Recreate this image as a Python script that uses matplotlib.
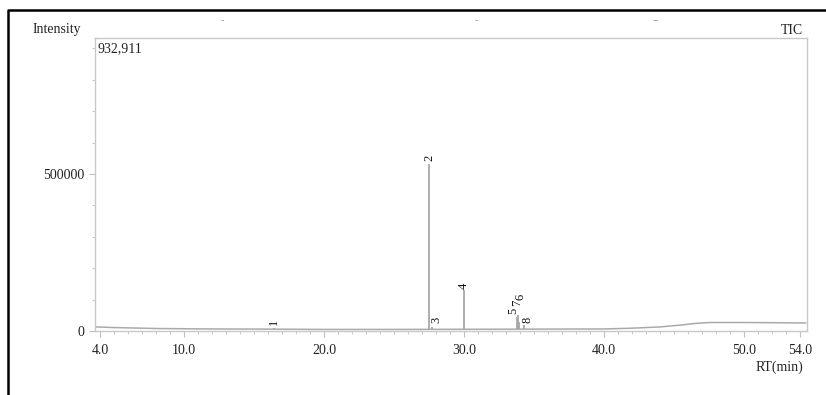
import matplotlib.pyplot as plt
from matplotlib.lines import Line2D

# baseline of the TIC trace (RT in min, intensity)
base_rt = [3.7, 5.0, 8.0, 12.0, 16.0, 20.0, 25.0, 30.0, 35.0, 40.0, 42.0, 44.0, 45.5, 46.5, 47.5, 50.0, 52.0, 54.4]
base_int = [13000, 11000, 8000, 6500, 6000, 5000, 5000, 5500, 6000, 6500, 9000, 13000, 19000, 24000, 27000, 27000, 26500, 25500]

# peaks
peak_labels = ['1', '2', '3', '4', '5', '6', '7', '8']
peak_rt = [16.4, 27.5, 27.7, 30.0, 33.75, 33.85, 33.95, 34.25]
peak_int = [9000, 531000, 12000, 130000, 45000, 52000, 28000, 18000]
# where the label sits (intensity)
label_y = [20000, 540000, 26000, 135000, 55000, 100000, 80000, 24000]
label_x = [16.4, 27.5, 28.0, 30.0, 33.55, 34.05, 33.8, 34.5]

plt.rcParams['font.family'] = 'Liberation Serif'
fig = plt.figure(figsize=(8.26, 3.95), dpi=100)
ax = fig.add_axes([0.115, 0.162, 0.862, 0.742])

ax.plot(base_rt, base_int, color='#aaaaaa', lw=1.1)
ax.vlines(peak_rt, 5000, peak_int, color='#a8a8a8', lw=1.3)
for lab, x, y in zip(peak_labels, label_x, label_y):
    ax.text(x, y, lab, rotation=90, ha='center', va='bottom', fontsize=9, color='#111111')

ax.set_xlim(3.64, 54.5)
ax.set_ylim(0, 932911)

for s in ax.spines.values():
    s.set_color('#c8c8c8')
    s.set_linewidth(1.0)

ax.set_xticks([4.0, 10.0, 20.0, 30.0, 40.0, 50.0, 54.0])
ax.set_xticklabels(['4.0', '10.0', '20.0', '30.0', '40.0', '50.0', '54.0'])
ax.set_xticks(range(5, 54), minor=True)
ax.set_yticks([0, 500000])
ax.set_yticklabels(['0', '500000'])
ax.set_yticks(range(100000, 900001, 100000), minor=True)
ax.tick_params(axis='both', which='major', colors='#c0c0c0', labelcolor='#222222',
               labelsize=10, length=4, width=0.8)
ax.tick_params(axis='both', which='minor', colors='#c8c8c8', length=2.5, width=0.7)
ax.tick_params(axis='x', pad=5)

fig.text(33 / 826, 1 - 30 / 395, 'Intensity', fontsize=10, color='#222222', va='center')
ax.text(0.003, 0.985, '932,911', transform=ax.transAxes, fontsize=10, color='#222222', va='top')
fig.text(803 / 826, 1 - 30 / 395, 'TIC', fontsize=10, color='#222222', va='center', ha='right')
fig.text(803 / 826, 1 - 367 / 395, 'RT(min)', fontsize=10, color='#222222', va='center', ha='right')

# small marks along the top
fig.text(222 / 826, 1 - 21 / 395, '-', fontsize=7, color='#999999', ha='center', va='center')
fig.text(476 / 826, 1 - 21 / 395, '-', fontsize=7, color='#999999', ha='center', va='center')
fig.text(656 / 826, 1 - 21 / 395, '--', fontsize=7, color='#999999', ha='center', va='center')

# outer frame (left and top)
fig.add_artist(Line2D([8 / 826, 8 / 826, 1.0], [0.0, 1 - 10 / 395, 1 - 10 / 395],
                      transform=fig.transFigure, color='black', lw=1.8))

fig.savefig('out.png', dpi=100)
